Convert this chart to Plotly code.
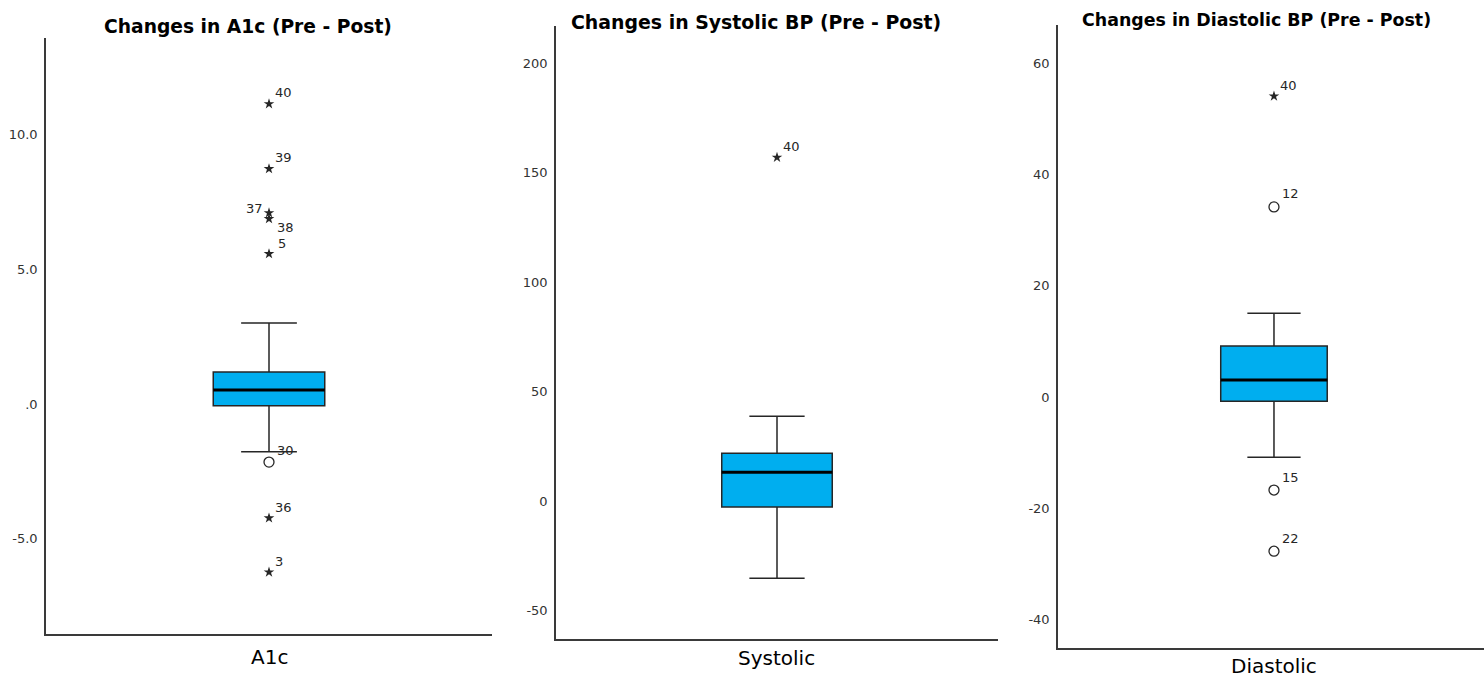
import plotly.graph_objects as go

# ---------------- data ----------------
panel_titles = ["Changes in A1c (Pre - Post)", "Changes in Systolic BP (Pre - Post)",
                "Changes in Diastolic BP (Pre - Post)"]
variable_names = ["A1c", "Systolic", "Diastolic"]

q1_vals = [-0.07, -2.7, -0.72]
median_vals = [0.52, 13.2, 3.06]
q3_vals = [1.19, 21.9, 9.17]
lower_whisker = [-1.78, -35.2, -10.8]
upper_whisker = [3.01, 38.8, 15.1]

# outliers: value, case label, kind ("star" = extreme, "circle" = outlier)
a1c_out_vals = [11.15, 8.74, 7.1, 6.88, 5.58, -2.16, -4.24, -6.25]
a1c_out_ids = ["40", "39", "37", "38", "5", "30", "36", "3"]
a1c_out_kind = ["star", "star", "star", "star", "star", "circle", "star", "star"]

sys_out_vals = [157.0]
sys_out_ids = ["40"]
sys_out_kind = ["star"]

dia_out_vals = [54.1, 34.2, -16.7, -27.7]
dia_out_ids = ["40", "12", "15", "22"]
dia_out_kind = ["star", "circle", "circle", "circle"]

y_tickvals = [[-5, 0, 5, 10], [-50, 0, 50, 100, 150, 200], [-40, -20, 0, 20, 40, 60]]
y_ticktext = [["-5.0", ".0", "5.0", "10.0"], ["-50", "0", "50", "100", "150", "200"],
              ["-40", "-20", "0", "20", "40", "60"]]
y_ranges = [[-8.55, 13.6], [-63, 217], [-45.1, 66.9]]

# ---------------- layout geometry / styles ----------------
W, H = 1484, 679
x_domains = [[46 / W, 492 / W], [556 / W, 998 / W], [1058 / W, 1.0]]
x_ranges = [[-1, 1], [-1, 1], [-1.014, 0.986]]
y_domains = [[1 - 634 / H, 1 - 38 / H], [1 - 639 / H, 1 - 26 / H], [1 - 648 / H, 1 - 25 / H]]
title_pos = [(248 / W, 1 - 27 / H), (756 / W, 1 - 22 / H), (1256 / W, 1 - 20 / H)]
title_sizes = [18.7, 18.9, 17.4]
xlabel_pos = [(269 / W, 1 - 657 / H), (776 / W, 1 - 658 / H), (1274 / W, 1 - 666 / H)]

# label placement (anchor, xshift, yshift) for case labels; default top-right
DEFAULT_LABEL = ("left", 4, 11)
LABEL_OVERRIDES = {(0, "37"): ("right", -4, 4), (0, "38"): ("left", 6, -9),
                   (0, "5"): ("left", 7, 10), (0, "30"): ("left", 6, 12),
                   (2, "12"): ("left", 6, 13), (2, "15"): ("left", 6, 13),
                   (2, "22"): ("left", 6, 13)}

BOX_W = 0.5
FILL = "#00AEEF"
INK = "#262626"
FONT = "DejaVu Sans"

outliers = [
    (a1c_out_vals, a1c_out_ids, a1c_out_kind),
    (sys_out_vals, sys_out_ids, sys_out_kind),
    (dia_out_vals, dia_out_ids, dia_out_kind),
]

fig = go.Figure()
annotations = []
for i in range(3):
    xa = "x" if i == 0 else f"x{i + 1}"
    ya = "y" if i == 0 else f"y{i + 1}"
    fig.add_trace(go.Box(
        x=[0], q1=[q1_vals[i]], median=[median_vals[i]], q3=[q3_vals[i]],
        lowerfence=[lower_whisker[i]], upperfence=[upper_whisker[i]],
        width=BOX_W, whiskerwidth=0.5, fillcolor=FILL,
        line=dict(color=INK, width=1.5), boxpoints=False,
        xaxis=xa, yaxis=ya, hoverinfo="skip", showlegend=False))
    fig.add_trace(go.Scatter(
        x=[-BOX_W / 2, BOX_W / 2], y=[median_vals[i], median_vals[i]], mode="lines",
        line=dict(color="black", width=3), xaxis=xa, yaxis=ya,
        hoverinfo="skip", showlegend=False))
    vals, ids, kinds = outliers[i]
    for kind in ("star", "circle"):
        idx = [k for k in range(len(vals)) if kinds[k] == kind]
        if not idx:
            continue
        marker = (dict(symbol="star", size=8, color=INK) if kind == "star"
                  else dict(symbol="circle-open", size=10, color=INK, line=dict(width=1.3, color=INK)))
        fig.add_trace(go.Scatter(
            x=[0] * len(idx), y=[vals[k] for k in idx], mode="markers",
            marker=marker, xaxis=xa, yaxis=ya, hoverinfo="skip", showlegend=False))
    for k in range(len(vals)):
        anc, dx, dy = LABEL_OVERRIDES.get((i, ids[k]), DEFAULT_LABEL)
        annotations.append(dict(text=ids[k], x=0, y=vals[k], xref=xa, yref=ya, showarrow=False,
                                xanchor=anc, yanchor="middle", xshift=dx, yshift=dy,
                                font=dict(family=FONT, size=13, color=INK)))

    axis_common = dict(showgrid=False, zeroline=False, showline=True, linecolor="#3a3a3a",
                       linewidth=1.5, ticks="")
    fig.layout[("xaxis" if i == 0 else f"xaxis{i + 1}")] = dict(
        domain=x_domains[i], range=x_ranges[i], showticklabels=False, anchor=ya, fixedrange=True,
        **axis_common)
    fig.layout[("yaxis" if i == 0 else f"yaxis{i + 1}")] = dict(
        domain=y_domains[i], range=y_ranges[i], tickvals=y_tickvals[i], ticktext=y_ticktext[i],
        tickfont=dict(family=FONT, size=13, color="#333333"), anchor=xa, ticklabelstandoff=4,
        **axis_common)

    annotations.append(dict(text=f"<b>{panel_titles[i]}</b>", x=title_pos[i][0], y=title_pos[i][1],
                            xref="paper", yref="paper", showarrow=False, xanchor="center",
                            yanchor="middle", font=dict(family=FONT, size=title_sizes[i], color="black")))
    annotations.append(dict(text=variable_names[i], x=xlabel_pos[i][0], y=xlabel_pos[i][1],
                            xref="paper", yref="paper", showarrow=False, xanchor="center",
                            yanchor="middle", font=dict(family=FONT, size=20, color="black")))

fig.update_layout(width=W, height=H, margin=dict(l=0, r=0, t=0, b=0),
                  paper_bgcolor="white", plot_bgcolor="white", showlegend=False,
                  annotations=annotations)
fig.write_html("out.html", config={"displayModeBar": False},
               post_script="document.body.style.margin='0';document.body.style.overflow='hidden';"
                           "document.documentElement.style.overflow='hidden';")
